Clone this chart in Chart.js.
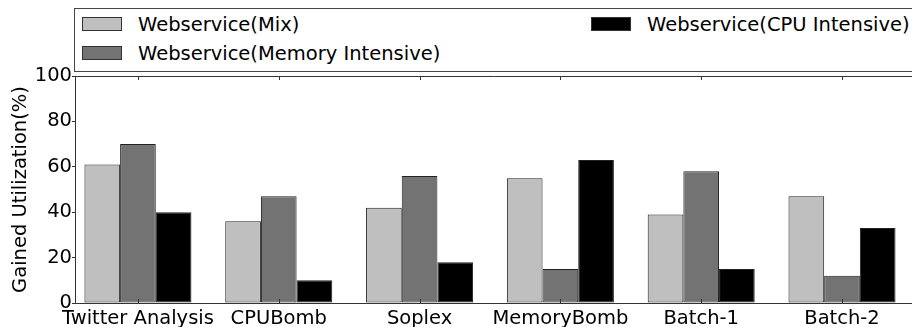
<!DOCTYPE html>
<html>
<head>
<meta charset="utf-8">
<script src="https://cdn.jsdelivr.net/npm/chart.js@4/dist/chart.umd.min.js"></script>
<style>
  body { margin: 0; background: #fff; }
  #wrap { position: relative; width: 912px; height: 327px; overflow: hidden; }
  #legend {
    position: absolute; left: 74px; top: 8px; width: 900px; height: 62px;
    border: 1px solid #444; background: #fff;
    font-family: "DejaVu Sans", sans-serif; font-size: 19.5px; color: #000;
  }
  .item { position: absolute; height: 14px; white-space: nowrap; }
  .sw { position: absolute; left: 0; top: 0; width: 38px; height: 12px; border: 1px solid #333; }
  .lbl { position: absolute; left: 56px; top: -2.5px; line-height: 20px; }
</style>
</head>
<body>
<div id="wrap">
  <canvas id="myChart"></canvas>
  <div id="legend"></div>
</div>
<script>
// categories + values
const categories = ['Twitter Analysis', 'CPUBomb', 'Soplex', 'MemoryBomb', 'Batch-1', 'Batch-2'];
const seriesNames = ['Webservice(Mix)', 'Webservice(Memory Intensive)', 'Webservice(CPU Intensive)'];
const mix = [61, 36, 42, 55, 39, 47];
const memIntensive = [70, 47, 56, 15, 58, 12];
const cpuIntensive = [40, 10, 18, 63, 15, 33];
const yTicks = [0, 20, 40, 60, 80, 100];

const colors = ['#bfbfbf', '#737373', '#000000'];
const values = [mix, memIntensive, cpuIntensive];

const font = { family: 'DejaVu Sans', size: 19.5 };

// inward tick marks + top spine
const frame = {
    id: 'frame',
    afterDraw(chart) {
        const c = chart.ctx, a = chart.chartArea, x = chart.scales.x;
        c.save();
        c.strokeStyle = '#333';
        c.lineWidth = 1;
        c.beginPath();
        c.moveTo(a.left, a.top + 0.5);
        c.lineTo(a.right, a.top + 0.5);
        categories.forEach((_, i) => {
            const px = Math.round(x.getPixelForValue(i)) + 0.5;
            c.moveTo(px, a.bottom);
            c.lineTo(px, a.bottom - 4);
            c.moveTo(px, a.top);
            c.lineTo(px, a.top + 4);
        });
        c.stroke();
        c.restore();
    }
};

const ctx = document.getElementById('myChart').getContext('2d');
const myChart = new Chart(ctx, {
    type: 'bar',
    data: {
        datasets: seriesNames.map((name, s) => ({
            label: name,
            data: values[s].map((v, i) => ({ x: i, y: v })),
            backgroundColor: colors[s],
            borderColor: '#222',
            borderWidth: 1,
            borderSkipped: false,
            categoryPercentage: 0.76,
            barPercentage: 1
        }))
    },
    options: {
        animation: false,
        responsive: true,
        maintainAspectRatio: false,
        layout: { padding: { top: 76, right: 0, left: 0, bottom: 0 } },
        plugins: { legend: { display: false }, tooltip: { enabled: false } },
        scales: {
            x: {
                type: 'linear',
                offset: false,
                min: -0.447,
                max: 5.497,
                afterBuildTicks: (axis) => { axis.ticks = categories.map((_, i) => ({ value: i })); },
                afterFit: (scale) => { scale.height = 24; },
                grid: { display: false },
                border: { display: true, color: '#333', width: 1 },
                ticks: {
                    font: font, color: '#000', padding: -4, maxRotation: 0, autoSkip: false,
                    callback: (v) => categories[v]
                }
            },
            y: {
                min: 0,
                max: 100,
                afterBuildTicks: (axis) => { axis.ticks = yTicks.map(v => ({ value: v })); },
                afterFit: (scale) => { scale.width = 75; },
                grid: { drawOnChartArea: false, tickLength: 3, color: '#333' },
                border: { display: true, color: '#333', width: 1 },
                ticks: { font: font, color: '#000', padding: 0 },
                title: {
                    display: true, text: 'Gained Utilization(%)', font: font, color: '#000',
                    padding: { top: 9, bottom: 0 }
                }
            }
        }
    },
    plugins: [frame]
});

// legend laid out like the original (2 columns, column-major)
const legendPos = [[7, 8], [7, 37], [516, 8]];
const legendEl = document.getElementById('legend');
seriesNames.forEach((name, s) => {
    const item = document.createElement('div');
    item.className = 'item';
    item.style.left = legendPos[s][0] + 'px';
    item.style.top = legendPos[s][1] + 'px';
    item.innerHTML = '<span class="sw" style="background:' + colors[s] + '"></span><span class="lbl">' + name + '</span>';
    legendEl.appendChild(item);
});
</script>
</body>
</html>
